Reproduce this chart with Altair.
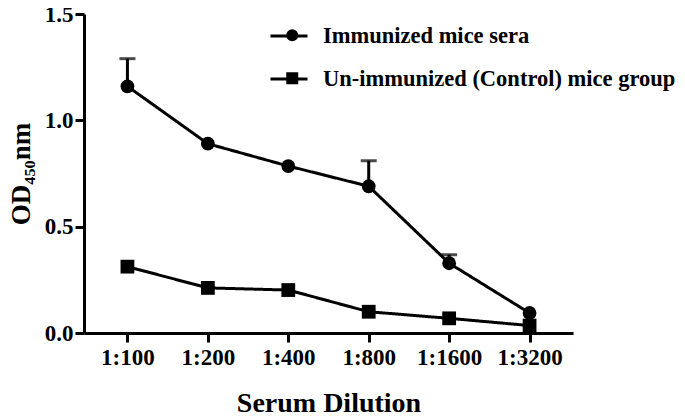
import altair as alt
import pandas as pd

dilutions = ["1:100", "1:200", "1:400", "1:800", "1:1600", "1:3200"]
series_names = ["Immunized mice sera", "Un-immunized (Control) mice group"]
immunized = [1.16, 0.89, 0.785, 0.69, 0.328, 0.094]
immunized_err = [0.13, 0.0, 0.0, 0.12, 0.04, 0.0]
control = [0.312, 0.212, 0.202, 0.10, 0.069, 0.035]
control_err = [0.0, 0.0, 0.0, 0.0, 0.0, 0.0]

rows = []
for name, vals, errs in [(series_names[0], immunized, immunized_err),
                         (series_names[1], control, control_err)]:
    for d, v, e in zip(dilutions, vals, errs):
        rows.append({"dil": d, "od": v, "err": e, "upper": v + e,
                     "series": name, "series2": name + " "})
df = pd.DataFrame(rows)
shape_domain = [n + " " for n in series_names]

FONT = "Liberation Serif"
YDOM = alt.Scale(domain=[0, 1.5], nice=False, zero=True)

x = alt.X("dil:N", sort=dilutions,
          scale=alt.Scale(type="point", padding=0.54),
          axis=alt.Axis(title="Serum Dilution", labelAngle=0, labelPadding=4,
                        titleFontSize=28, titlePadding=20))
y = alt.Y("od:Q", scale=YDOM,
          axis=alt.Axis(title="OD\u2084\u2085\u2080nm", values=[0, 0.5, 1.0, 1.5],
                        format=".1f", labelPadding=2, titleFontSize=27,
                        titleX=-55, titleAngle=270, titleBaseline="alphabetic"))

base = alt.Chart(df)

err_df = base.transform_filter("datum.err > 0")
rule = err_df.mark_rule(color="black", strokeWidth=3).encode(
    x=x, y=alt.Y("od:Q", scale=YDOM), y2="upper:Q")
cap = err_df.mark_tick(color="black", thickness=3, size=16).encode(
    x=x, y=alt.Y("upper:Q", scale=YDOM))

line = base.mark_line(color="black", strokeWidth=3).encode(
    x=x, y=y,
    strokeDash=alt.StrokeDash(
        "series:N",
        scale=alt.Scale(domain=series_names, range=[[1, 0], [1, 0]]),
        legend=alt.Legend(title=None, orient="none", legendX=185, legendY=2,
                          symbolType="stroke", symbolSize=1369,
                          symbolStrokeColor="black", symbolStrokeWidth=3,
                          labelFont=FONT, labelFontWeight="bold", labelFontSize=22.5,
                          labelColor="black", labelOffset=14, rowPadding=11,
                          padding=0, labelLimit=400)))

points = base.mark_point(filled=True, color="black", size=190, opacity=1).encode(
    x=x, y=y,
    shape=alt.Shape(
        "series2:N",
        scale=alt.Scale(domain=shape_domain, range=["circle", "square"]),
        legend=alt.Legend(title=None, orient="none", legendX=197, legendY=10,
                          symbolSize=144, symbolFillColor="black",
                          symbolStrokeColor="black", symbolStrokeWidth=0,
                          symbolOpacity=1, labelExpr="''",
                          labelFont=FONT, labelFontWeight="bold", labelFontSize=22.5,
                          labelOffset=14, rowPadding=20,
                          padding=0, labelLimit=400)))

chart = alt.layer(rule, cap, line, points).properties(
    width=489, height=319,
    autosize=alt.AutoSizeParams(type="none"),
    padding={"left": 76, "top": 6, "right": 104, "bottom": 95},
).resolve_legend(shape="independent", strokeDash="independent").configure_view(
    stroke=None
).configure_axis(
    domainColor="black", domainWidth=3, tickColor="black", tickWidth=3, tickSize=9,
    labelFont=FONT, labelFontWeight="bold", labelFontSize=23, labelColor="black",
    titleFont=FONT, titleFontWeight="bold", titleColor="black", grid=False,
)

chart.save("out.html", embed_options={"renderer": "svg", "actions": False})
